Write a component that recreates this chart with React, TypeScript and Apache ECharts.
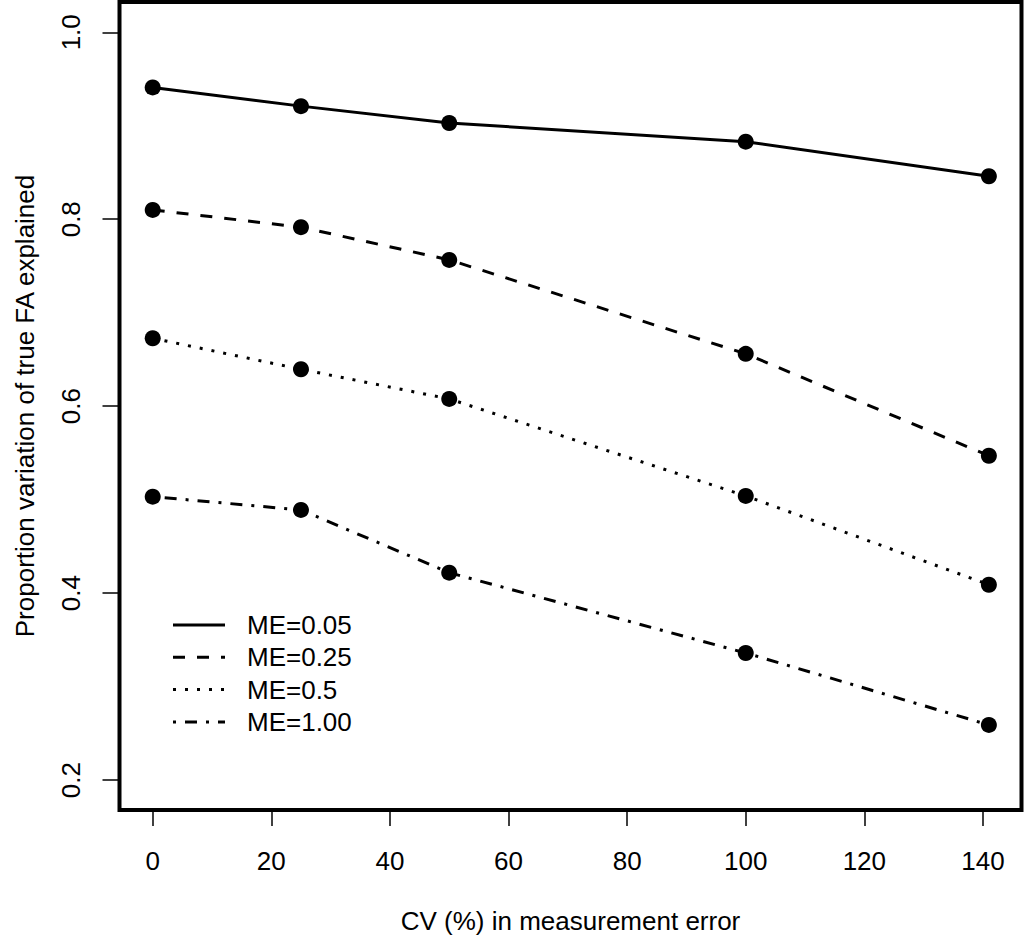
import React, { useEffect, useRef } from "react";
import * as echarts from "echarts";

const cvValues = [0, 25, 50, 100, 141];
const me005 = [0.941, 0.921, 0.903, 0.883, 0.846];
const me025 = [0.81, 0.7915, 0.7565, 0.656, 0.547];
const me05 = [0.6727, 0.6395, 0.6078, 0.504, 0.409];
const me100 = [0.5032, 0.489, 0.4219, 0.336, 0.259];
const seriesNames = ["ME=0.05", "ME=0.25", "ME=0.5", "ME=1.00"];
const xTicks = [0, 20, 40, 60, 80, 100, 120, 140];
const yTicks = [0.2, 0.4, 0.6, 0.8, 1.0];

const FONT = "Liberation Sans, Arial, Helvetica, sans-serif";
const FS = 26;

export default function App() {
  const ref = useRef<HTMLDivElement>(null);
  useEffect(() => {
    if (!ref.current) return;
    const chart = echarts.init(ref.current, undefined, { renderer: "svg" });
    const dashes: any[] = ["solid", [12, 12], [3, 9], [3, 9, 12, 9]];
    const data = [me005, me025, me05, me100];
    const series = data.map((vals, i) => ({
      name: seriesNames[i],
      type: "line",
      data: vals.map((v, j) => [cvValues[j], v]),
      symbol: "circle",
      symbolSize: 16,
      itemStyle: { color: "#000" },
      lineStyle: { color: "#000", width: 3, type: dashes[i], cap: "butt" },
      silent: true,
      z: 3,
    }));
    const legendX1 = 173;
    const legendX2 = 225;
    const legendY0 = 625;
    const legendDy = 32.3;
    const graphic: any[] = [];
    seriesNames.forEach((n, i) => {
      const y = legendY0 + i * legendDy;
      graphic.push({
        type: "line",
        shape: { x1: legendX1, y1: y, x2: legendX2, y2: y },
        style: {
          stroke: "#000",
          lineWidth: 3,
          lineDash: i === 0 ? null : dashes[i],
          lineCap: "butt",
        },
      });
      graphic.push({
        type: "text",
        x: 247,
        y: y,
        style: {
          text: n,
          font: `${FS}px ${FONT}`,
          fill: "#000",
          verticalAlign: "middle",
          align: "left",
        },
      });
    });
    chart.setOption({
      animation: false,
      backgroundColor: "#fff",
      textStyle: { fontFamily: FONT, color: "#000" },
      grid: {
        left: 119.5,
        right: 2.5,
        top: 2,
        bottom: 126,
        show: true,
        borderColor: "#000",
        borderWidth: 4,
        outerBoundsMode: "none",
        containLabel: false,
      },
      xAxis: {
        type: "value",
        min: -5.6,
        max: 146.5,
        name: "CV (%) in measurement error",
        nameLocation: "middle",
        nameGap: 98,
        nameTextStyle: { fontSize: FS, color: "#000", fontFamily: FONT },
        axisLine: { show: false, onZero: false },
        splitLine: { show: false },
        axisTick: {
          show: true,
          length: 16,
          customValues: xTicks,
          lineStyle: { color: "#000", width: 1.5 },
        },
        axisLabel: {
          customValues: xTicks,
          fontSize: FS,
          color: "#000",
          fontFamily: FONT,
          margin: 38,
        },
      },
      yAxis: {
        type: "value",
        min: 0.168,
        max: 1.0324,
        name: "Proportion variation of true FA explained",
        nameLocation: "middle",
        nameGap: 82,
        nameTextStyle: { fontSize: FS, color: "#000", fontFamily: FONT },
        axisLine: { show: false, onZero: false },
        splitLine: { show: false },
        axisTick: {
          show: true,
          length: 17,
          customValues: yTicks,
          lineStyle: { color: "#000", width: 1.5 },
        },
        axisLabel: {
          customValues: yTicks,
          fontSize: FS,
          color: "#000",
          fontFamily: FONT,
          rotate: 90,
          margin: 36,
          formatter: (v: number) => v.toFixed(1),
        },
      },
      series,
      graphic,
    });
    return () => chart.dispose();
  }, []);
  return (
    <div
      ref={ref}
      style={{ position: "fixed", left: 0, top: 0, width: 1024, height: 936 }}
    />
  );
}
